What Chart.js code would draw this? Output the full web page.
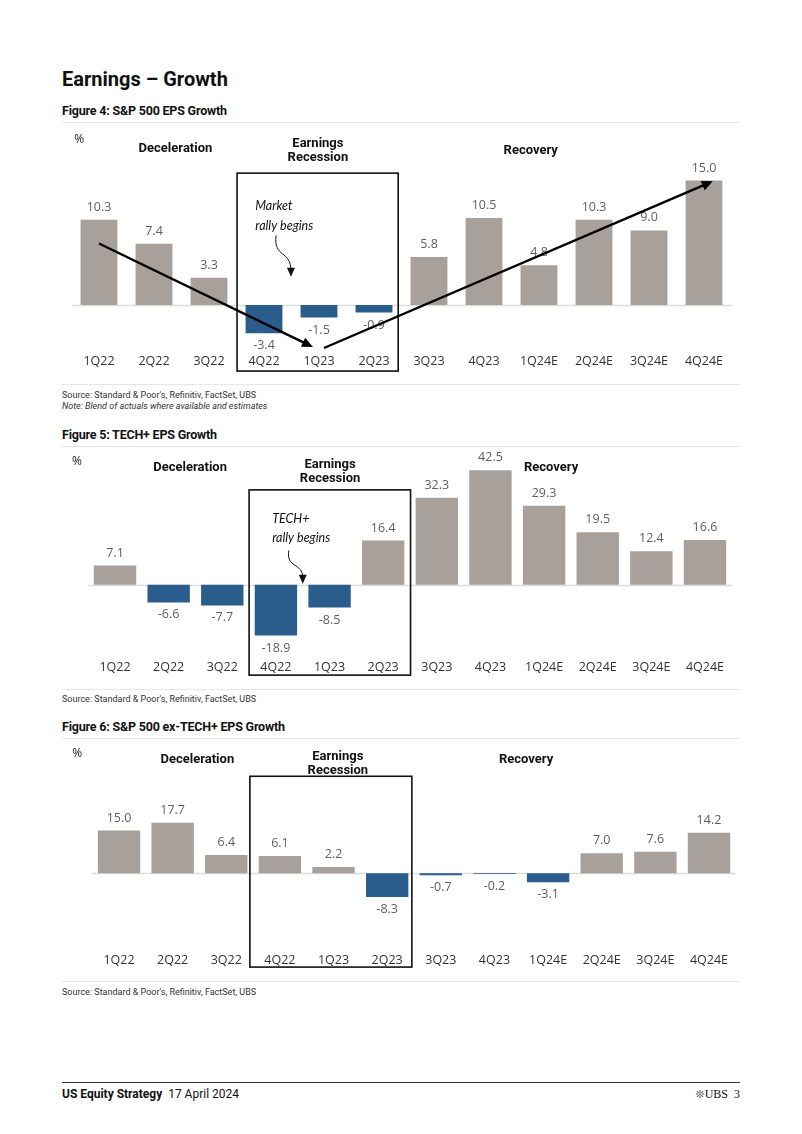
<!DOCTYPE html>
<html>
<head>
<meta charset="utf-8">
<script src="https://cdn.jsdelivr.net/npm/chart.js@4.4.1/dist/chart.umd.min.js"></script>
<style>
  body { margin: 0; background: #fff; width: 802px; height: 1134px; position: relative; overflow: hidden; font-family: Roboto, sans-serif; color: #111; }
  .t { position: absolute; white-space: nowrap; line-height: 1; }
  .h1 { left: 62px; top: 69px; font-size: 20px; font-weight: 700; }
  .fig { left: 62px; font-size: 12.5px; font-weight: 700; letter-spacing: -0.2px; }
  .rule { position: absolute; left: 62px; width: 678px; height: 1px; background: #e6e6e6; }
  .src { left: 62px; font-size: 9px; color: #333; }
  .box { position: absolute; left: 0; width: 802px; }
  .foot { top: 1088px; font-size: 12px; }
</style>
</head>
<body>
<div class="t h1">Earnings – Growth</div>

<div class="t fig" style="top:105px">Figure 4: S&amp;P 500 EPS Growth</div>
<div class="rule" style="top:122px"></div>
<div class="box" style="top:124px;height:256px"><canvas id="c1"></canvas></div>
<div class="rule" style="top:384px"></div>
<div class="t src" style="top:391px">Source: Standard &amp; Poor's, Refinitiv, FactSet, UBS</div>
<div class="t src" style="top:402px;font-style:italic">Note: Blend of actuals where available and estimates</div>

<div class="t fig" style="top:429px">Figure 5: TECH+ EPS Growth</div>
<div class="rule" style="top:446px"></div>
<div class="box" style="top:447px;height:240px"><canvas id="c2"></canvas></div>
<div class="rule" style="top:689px"></div>
<div class="t src" style="top:695px">Source: Standard &amp; Poor's, Refinitiv, FactSet, UBS</div>

<div class="t fig" style="top:721px">Figure 6: S&amp;P 500 ex-TECH+ EPS Growth</div>
<div class="rule" style="top:738px"></div>
<div class="box" style="top:739px;height:240px"><canvas id="c3"></canvas></div>
<div class="rule" style="top:981px"></div>
<div class="t src" style="top:988px">Source: Standard &amp; Poor's, Refinitiv, FactSet, UBS</div>

<div class="rule" style="top:1082px;background:#333"></div>
<div class="t foot" style="left:62px"><b>US Equity Strategy</b>&nbsp;&nbsp;17 April 2024</div>
<div class="t foot" style="right:62px;font-family:'Liberation Serif',serif"><span style="font-family:'DejaVu Sans';font-size:11px;color:#444">❊</span>UBS&nbsp;&nbsp;3</div>

<script>
const quarters = ['1Q22', '2Q22', '3Q22', '4Q22', '1Q23', '2Q23', '3Q23', '4Q23', '1Q24E', '2Q24E', '3Q24E', '4Q24E'];
const spxGrowth = [10.3, 7.4, 3.3, -3.4, -1.5, -0.9, 5.8, 10.5, 4.8, 10.3, 9.0, 15.0];
const techGrowth = [7.1, -6.6, -7.7, -18.9, -8.5, 16.4, 32.3, 42.5, 29.3, 19.5, 12.4, 16.6];
const exTechGrowth = [15.0, 17.7, 6.4, 6.1, 2.2, -8.3, -0.7, -0.2, -3.1, 7.0, 7.6, 14.2];

const GREY = '#a8a09a';
const BLUE = '#2b5d8c';

// annotation anchors, in (category index, value) units
const notes1 = {
  pct: [-0.36, 20.0],
  groups: [['Deceleration', 1.39, 18.8], ['Earnings', 3.98, 19.5], ['Recession', 3.98, 17.7], ['Recovery', 7.85, 18.56]],
  box: [2.51, 5.44, 15.9, -7.95],
  hand: [['Market', 2.84, 11.9], ['rally begins', 2.84, 9.48]],
  curve: [3.22, 8.39, 3.49, 3.43],
  arrows: [[0, 7.42, 3.89, -5.05], [4.09, -5.17, 11.16, 14.93]]
};
const notes2 = {
  pct: [-0.71, 45.6],
  groups: [['Deceleration', 1.40, 43.4], ['Earnings', 4.01, 44.4], ['Recession', 4.01, 39.2], ['Recovery', 8.13, 43.4]],
  box: [2.5, 5.51, 35.2, -33.6],
  hand: [['TECH+', 2.93, 24.4], ['rally begins', 2.93, 17.5]],
  curve: [3.24, 12.7, 3.5, 0.37],
  arrows: []
};
const notes3 = {
  pct: [-0.78, 41.8],
  groups: [['Deceleration', 1.46, 39.7], ['Earnings', 4.08, 40.7], ['Recession', 4.08, 35.8], ['Recovery', 7.59, 39.7]],
  box: [2.44, 5.46, 34.0, -32.85],
  hand: [],
  curve: null,
  arrows: []
};

const valueLabels = {
  id: 'valueLabels',
  beforeDatasetsDraw(chart) {
    const { ctx, chartArea, scales: { y } } = chart;
    const y0 = Math.round(y.getPixelForValue(0)) + 0.5;
    ctx.save();
    ctx.strokeStyle = '#dcdcdc';
    ctx.lineWidth = 1.5;
    ctx.beginPath();
    ctx.moveTo(chartArea.left, y0);
    ctx.lineTo(chartArea.right, y0);
    ctx.stroke();
    ctx.restore();
  },
  afterDatasetsDraw(chart) {
    const ctx = chart.ctx;
    const vals = chart.data.datasets[0].data;
    ctx.save();
    ctx.font = '12.5px "Open Sans"';
    ctx.fillStyle = '#5f5f5f';
    ctx.textAlign = 'center';
    ctx.textBaseline = 'middle';
    chart.getDatasetMeta(0).data.forEach((bar, i) => {
      const v = vals[i];
      ctx.fillText(v.toFixed(1), bar.x, v >= 0 ? bar.y - 12.5 : bar.y + 12.5);
    });
    ctx.restore();
  }
};

function drawArrow(ctx, x1, y1, x2, y2) {
  const a = Math.atan2(y2 - y1, x2 - x1);
  const h = 11, w = 5;
  ctx.beginPath();
  ctx.moveTo(x1, y1);
  ctx.lineTo(x2 - Math.cos(a) * h * 0.6, y2 - Math.sin(a) * h * 0.6);
  ctx.stroke();
  ctx.beginPath();
  ctx.moveTo(x2, y2);
  ctx.lineTo(x2 - h * Math.cos(a) + w * Math.sin(a), y2 - h * Math.sin(a) - w * Math.cos(a));
  ctx.lineTo(x2 - h * Math.cos(a) - w * Math.sin(a), y2 - h * Math.sin(a) + w * Math.cos(a));
  ctx.closePath();
  ctx.fill();
}

function notesPlugin(n) {
  return {
    id: 'notes',
    afterDraw(chart) {
      const { ctx, scales: { x, y } } = chart;
      const X = v => x.getPixelForValue(v);
      const Y = v => y.getPixelForValue(v);
      ctx.save();
      ctx.textBaseline = 'middle';
      ctx.textAlign = 'center';
      ctx.fillStyle = '#222';
      ctx.font = '12px "Open Sans"';
      ctx.fillText('%', X(n.pct[0]), Y(n.pct[1]));
      ctx.font = 'bold 13px Roboto';
      ctx.fillStyle = '#111';
      n.groups.forEach(([t, i, v]) => ctx.fillText(t, X(i), Y(v)));

      // recession box
      const [b0, b1, bt, bb] = n.box;
      ctx.strokeStyle = '#111';
      ctx.lineWidth = 1.6;
      ctx.strokeRect(X(b0), Y(bt), X(b1) - X(b0), Y(bb) - Y(bt));

      // hand-written note
      ctx.textAlign = 'left';
      ctx.font = 'italic 12.5px Lato';
      ctx.fillStyle = '#111';
      n.hand.forEach(([t, i, v]) => ctx.fillText(t, X(i), Y(v)));
      if (n.curve) {
        const x0 = X(n.curve[0]), y0 = Y(n.curve[1]), x3 = X(n.curve[2]), y3 = Y(n.curve[3]);
        const dy = y3 - y0;
        ctx.lineWidth = 1;
        ctx.beginPath();
        ctx.moveTo(x0, y0);
        ctx.bezierCurveTo(x0 - 3, y0 + dy * 0.55, x3, y0 + dy * 0.35, x3, y3 - 6);
        ctx.stroke();
        ctx.beginPath();
        ctx.moveTo(x3, y3);
        ctx.lineTo(x3 - 4, y3 - 9);
        ctx.lineTo(x3 + 4, y3 - 9);
        ctx.closePath();
        ctx.fill();
      }

      // trend arrows
      ctx.lineWidth = 2.4;
      ctx.fillStyle = '#000';
      ctx.strokeStyle = '#000';
      n.arrows.forEach(([i1, v1, i2, v2]) => drawArrow(ctx, X(i1), Y(v1), X(i2), Y(v2)));
      ctx.restore();
    }
  };
}

function makeChart(id, values, opt, notes) {
  return new Chart(document.getElementById(id), {
    type: 'bar',
    data: {
      labels: quarters,
      datasets: [{
        data: values,
        backgroundColor: values.map(v => v < 0 ? BLUE : GREY),
        barPercentage: opt.barPct,
        categoryPercentage: 1
      }]
    },
    options: {
      responsive: true, maintainAspectRatio: false, animation: false,
      layout: { padding: opt.pad },
      plugins: { legend: { display: false }, tooltip: { enabled: false } },
      scales: {
        x: {
          grid: { display: false, drawTicks: false },
          border: { display: false },
          ticks: { color: '#333', font: { family: 'Open Sans', size: 12.5 }, padding: 4, maxRotation: 0, autoSkip: false }
        },
        y: { display: false, min: opt.min, max: opt.max }
      }
    },
    plugins: [valueLabels, notesPlugin(notes)]
  });
}

makeChart('c1', spxGrowth, { barPct: 0.67, min: -5.35, max: 21.1, pad: { left: 71.5, right: 70.5, top: 6, bottom: 7.5 } }, notes1);
makeChart('c2', techGrowth, { barPct: 0.79, min: -26.57, max: 48.9, pad: { left: 88.2, right: 70.2, top: 6, bottom: 7.8 } }, notes2);
makeChart('c3', exTechGrowth, { barPct: 0.79, min: -26.34, max: 44.96, pad: { left: 92.2, right: 66.2, top: 6, bottom: 7.5 } }, notes3);
</script>
</body>
</html>
